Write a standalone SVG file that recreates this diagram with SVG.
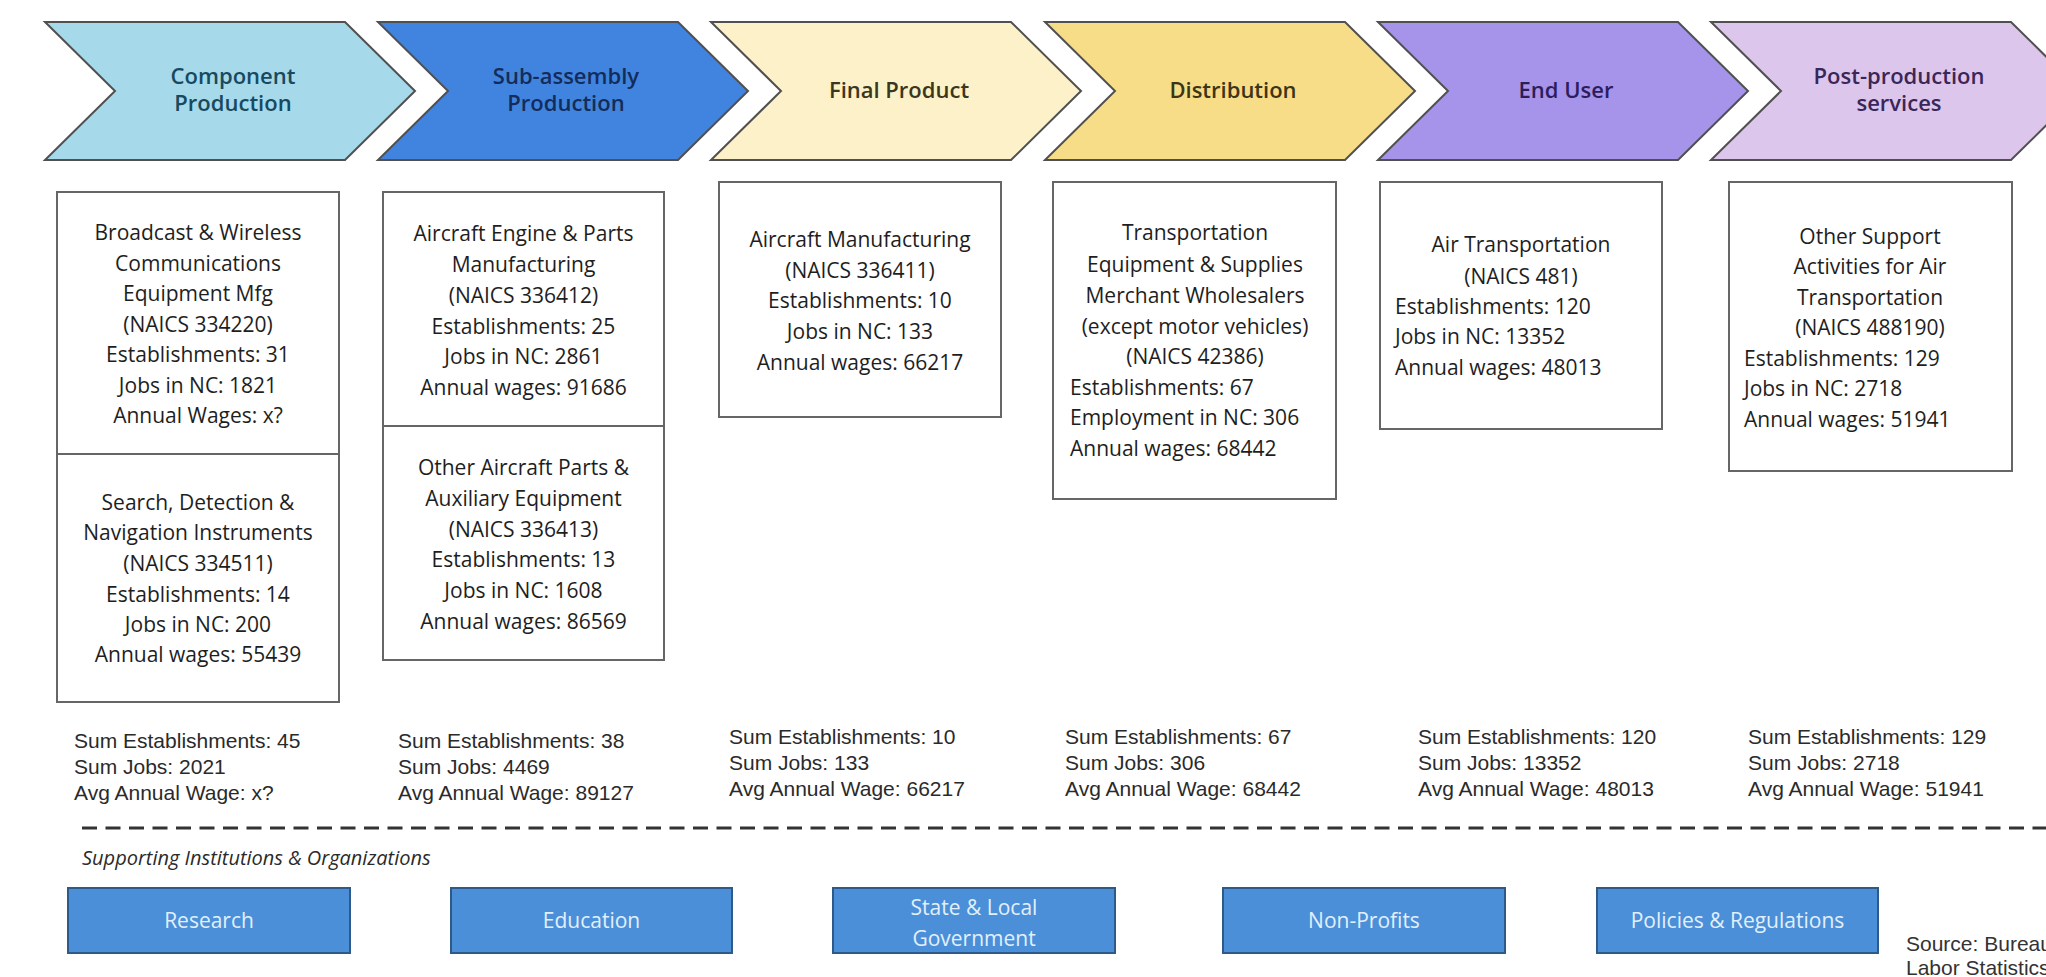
<svg xmlns="http://www.w3.org/2000/svg" width="2046" height="977" viewBox="0 0 2046 977">
<style>
.chev{stroke:#505050;stroke-width:2;stroke-linejoin:miter}
.ct{font-family:"Open Sans","Noto Sans",sans-serif;font-size:22px;font-weight:600;text-anchor:middle}
.box{fill:#fff;stroke:#666;stroke-width:2}
.bt{font-family:"Open Sans","Noto Sans",sans-serif;font-size:21px;fill:#1e1e1e}
.c{text-anchor:middle}
.sum{font-family:"Liberation Sans",Arial,sans-serif;font-size:21px;fill:#2a2a2a}
.btn{fill:#4a8fd8;stroke:#2d5a88;stroke-width:2}
.btt{font-family:"Open Sans","Noto Sans",sans-serif;font-size:21px;fill:#e2effb;text-anchor:middle}
.sup{font-family:"Open Sans","Noto Sans",sans-serif;font-size:20px;font-style:italic;fill:#2a2a2a}
.src{font-family:"Liberation Sans",Arial,sans-serif;font-size:21px;fill:#333}
</style>
<rect width="2046" height="977" fill="#fff"/>

<g id="stage-component">
<polygon class="chev" fill="#a6d9ea" points="45,22 345,22 415,91 345,160 45,160 115,91"/>
<text class="ct" fill="#174a5e" x="233" y="84">Component</text>
<text class="ct" fill="#174a5e" x="233" y="111">Production</text>
</g>
<g id="stage-subassembly">
<polygon class="chev" fill="#4184e0" points="378,22 678,22 748,91 678,160 378,160 448,91"/>
<text class="ct" fill="#142c5a" x="566" y="84">Sub-assembly</text>
<text class="ct" fill="#142c5a" x="566" y="111">Production</text>
</g>
<g id="stage-final">
<polygon class="chev" fill="#fdf1c9" points="711,22 1011,22 1081,91 1011,160 711,160 781,91"/>
<text class="ct" fill="#3a3620" x="899" y="98">Final Product</text>
</g>
<g id="stage-distribution">
<polygon class="chev" fill="#f8dd88" points="1045,22 1345,22 1415,91 1345,160 1045,160 1115,91"/>
<text class="ct" fill="#3d3514" x="1233" y="98">Distribution</text>
</g>
<g id="stage-enduser">
<polygon class="chev" fill="#a693ea" points="1378,22 1678,22 1748,91 1678,160 1378,160 1448,91"/>
<text class="ct" fill="#2c1d5c" x="1566" y="98">End User</text>
</g>
<g id="stage-post">
<polygon class="chev" fill="#dcc6ec" points="1711,22 2011,22 2081,91 2011,160 1711,160 1781,91"/>
<text class="ct" fill="#3a2658" x="1899" y="84">Post-production</text>
<text class="ct" fill="#3a2658" x="1899" y="111">services</text>
</g>

<g id="box-broadcast">
<rect class="box" x="57" y="192" width="282" height="262"/>
<text class="bt c" x="198" y="240">Broadcast &amp; Wireless</text>
<text class="bt c" x="198" y="270.5">Communications</text>
<text class="bt c" x="198" y="301">Equipment Mfg</text>
<text class="bt c" x="198" y="331.5">(NAICS 334220)</text>
<text class="bt c" x="198" y="362">Establishments: 31</text>
<text class="bt c" x="198" y="392.5">Jobs in NC: 1821</text>
<text class="bt c" x="198" y="423">Annual Wages: x?</text>
</g>
<g id="box-search">
<rect class="box" x="57" y="454" width="282" height="248"/>
<text class="bt c" x="198" y="510">Search, Detection &amp;</text>
<text class="bt c" x="198" y="540">Navigation Instruments</text>
<text class="bt c" x="198" y="571">(NAICS 334511)</text>
<text class="bt c" x="198" y="602">Establishments: 14</text>
<text class="bt c" x="198" y="632">Jobs in NC: 200</text>
<text class="bt c" x="198" y="662">Annual wages: 55439</text>
</g>
<g id="box-engine">
<rect class="box" x="383" y="192" width="281" height="234"/>
<text class="bt c" x="523.5" y="241">Aircraft Engine &amp; Parts</text>
<text class="bt c" x="523.5" y="271.5">Manufacturing</text>
<text class="bt c" x="523.5" y="303">(NAICS 336412)</text>
<text class="bt c" x="523.5" y="334">Establishments: 25</text>
<text class="bt c" x="523.5" y="364">Jobs in NC: 2861</text>
<text class="bt c" x="523.5" y="395">Annual wages: 91686</text>
</g>
<g id="box-otherparts">
<rect class="box" x="383" y="426" width="281" height="234"/>
<text class="bt c" x="523.5" y="475">Other Aircraft Parts &amp;</text>
<text class="bt c" x="523.5" y="505.5">Auxiliary Equipment</text>
<text class="bt c" x="523.5" y="537">(NAICS 336413)</text>
<text class="bt c" x="523.5" y="567">Establishments: 13</text>
<text class="bt c" x="523.5" y="597.5">Jobs in NC: 1608</text>
<text class="bt c" x="523.5" y="629">Annual wages: 86569</text>
</g>
<g id="box-aircraft">
<rect class="box" x="719" y="182" width="282" height="235"/>
<text class="bt c" x="860" y="247">Aircraft Manufacturing</text>
<text class="bt c" x="860" y="277.5">(NAICS 336411)</text>
<text class="bt c" x="860" y="308">Establishments: 10</text>
<text class="bt c" x="860" y="339">Jobs in NC: 133</text>
<text class="bt c" x="860" y="369.5">Annual wages: 66217</text>
</g>
<g id="box-wholesale">
<rect class="box" x="1053" y="182" width="283" height="317"/>
<text class="bt c" x="1195" y="240">Transportation</text>
<text class="bt c" x="1195" y="272">Equipment &amp; Supplies</text>
<text class="bt c" x="1195" y="303">Merchant Wholesalers</text>
<text class="bt c" x="1195" y="334">(except motor vehicles)</text>
<text class="bt c" x="1195" y="364">(NAICS 42386)</text>
<text class="bt" x="1070" y="395">Establishments: 67</text>
<text class="bt" x="1070" y="425">Employment in NC: 306</text>
<text class="bt" x="1070" y="456">Annual wages: 68442</text>
</g>
<g id="box-airtransport">
<rect class="box" x="1380" y="182" width="282" height="247"/>
<text class="bt c" x="1521" y="252">Air Transportation</text>
<text class="bt c" x="1521" y="284">(NAICS 481)</text>
<text class="bt" x="1395" y="314">Establishments: 120</text>
<text class="bt" x="1395" y="344">Jobs in NC: 13352</text>
<text class="bt" x="1395" y="375">Annual wages: 48013</text>
</g>
<g id="box-support">
<rect class="box" x="1729" y="182" width="283" height="289"/>
<text class="bt c" x="1870" y="244">Other Support</text>
<text class="bt c" x="1870" y="274">Activities for Air</text>
<text class="bt c" x="1870" y="305">Transportation</text>
<text class="bt c" x="1870" y="335">(NAICS 488190)</text>
<text class="bt" x="1744" y="366">Establishments: 129</text>
<text class="bt" x="1744" y="396">Jobs in NC: 2718</text>
<text class="bt" x="1744" y="427">Annual wages: 51941</text>
</g>

<g id="sums">
<text class="sum" x="74" y="748">Sum Establishments: 45</text>
<text class="sum" x="74" y="774">Sum Jobs: 2021</text>
<text class="sum" x="74" y="800">Avg Annual Wage: x?</text>
<text class="sum" x="398" y="748">Sum Establishments: 38</text>
<text class="sum" x="398" y="774">Sum Jobs: 4469</text>
<text class="sum" x="398" y="800">Avg Annual Wage: 89127</text>
<text class="sum" x="729" y="744">Sum Establishments: 10</text>
<text class="sum" x="729" y="770">Sum Jobs: 133</text>
<text class="sum" x="729" y="796">Avg Annual Wage: 66217</text>
<text class="sum" x="1065" y="744">Sum Establishments: 67</text>
<text class="sum" x="1065" y="770">Sum Jobs: 306</text>
<text class="sum" x="1065" y="796">Avg Annual Wage: 68442</text>
<text class="sum" x="1418" y="744">Sum Establishments: 120</text>
<text class="sum" x="1418" y="770">Sum Jobs: 13352</text>
<text class="sum" x="1418" y="796">Avg Annual Wage: 48013</text>
<text class="sum" x="1748" y="744">Sum Establishments: 129</text>
<text class="sum" x="1748" y="770">Sum Jobs: 2718</text>
<text class="sum" x="1748" y="796">Avg Annual Wage: 51941</text>
</g>

<g id="connectors"></g>

<g id="separator">
<line x1="82" y1="828" x2="2046" y2="828" stroke="#333" stroke-width="3" stroke-dasharray="15 8.5"/>
<text class="sup" x="82" y="865">Supporting Institutions &amp; Organizations</text>
</g>

<g id="inst-research">
<rect class="btn" x="68" y="888" width="282" height="65"/>
<text class="btt" x="209" y="928">Research</text>
</g>
<g id="inst-education">
<rect class="btn" x="451" y="888" width="281" height="65"/>
<text class="btt" x="591.5" y="928">Education</text>
</g>
<g id="inst-government">
<rect class="btn" x="833" y="888" width="282" height="65"/>
<text class="btt" x="974" y="915">State &amp; Local</text>
<text class="btt" x="974" y="946">Government</text>
</g>
<g id="inst-nonprofits">
<rect class="btn" x="1223" y="888" width="282" height="65"/>
<text class="btt" x="1364" y="928">Non-Profits</text>
</g>
<g id="inst-policies">
<rect class="btn" x="1597" y="888" width="281" height="65"/>
<text class="btt" x="1737.5" y="928">Policies &amp; Regulations</text>
</g>

<g id="source">
<text class="src" x="1906" y="951">Source: Bureau</text>
<text class="src" x="1906" y="975">Labor Statistics</text>
</g>
</svg>
